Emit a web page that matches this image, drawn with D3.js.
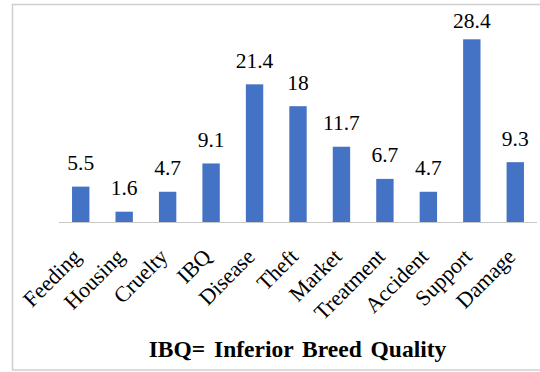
<!DOCTYPE html>
<html>
<head>
<meta charset="utf-8">
<script src="https://cdn.jsdelivr.net/npm/d3@7"></script>
<style>
  html, body { margin: 0; padding: 0; background: #fff; }
  svg { display: block; }
  svg text { font-family: "Liberation Serif", "DejaVu Serif", serif; }
</style>
</head>
<body>
<svg id="chart" width="540" height="372"></svg>
<script>
// Reported problems, percentage of respondents
const categories = ["Feeding", "Housing", "Cruelty", "IBQ", "Disease", "Theft", "Market", "Treatment", "Accident", "Support", "Damage"];
const values = [5.5, 1.6, 4.7, 9.1, 21.4, 18, 11.7, 6.7, 4.7, 28.4, 9.3];
const footnote = "IBQ= Inferior Breed Quality";

const svg = d3.select("#chart");
const plot = { left: 59, right: 537, top: 29, bottom: 222 };
const serif = '"Liberation Serif", "DejaVu Serif", serif';

// chart frame
svg.append("rect")
  .attr("x", 12.5).attr("y", 4.5)
  .attr("width", 540).attr("height", 365.5)
  .attr("fill", "#fff")
  .attr("stroke", "#d0d0d0")
  .attr("stroke-width", 1.5);

const x = d3.scaleBand()
  .domain(categories)
  .range([plot.left, plot.right])
  .paddingInner(0.6)
  .paddingOuter(0.3);

const y = d3.scaleLinear()
  .domain([0, 30])
  .range([plot.bottom, plot.top]);

const data = categories.map((c, i) => ({ c, v: values[i] }));

// bars
svg.append("g").selectAll("rect")
  .data(data)
  .join("rect")
  .attr("x", d => x(d.c))
  .attr("y", d => y(d.v))
  .attr("width", x.bandwidth())
  .attr("height", d => y(0) - y(d.v))
  .attr("fill", "#4472C4");

// category axis
const xAxis = svg.append("g")
  .attr("transform", `translate(0,${plot.bottom})`)
  .call(d3.axisBottom(x).tickSize(0).tickPadding(0));
xAxis.attr("font-family", null).attr("font-size", null);
xAxis.select(".domain").attr("stroke", "#c8c8c8").attr("stroke-width", 1.2)
  .attr("d", `M${plot.left},0.5H${plot.right}`);
xAxis.selectAll(".tick text")
  .style("font-family", serif)
  .style("font-size", "22px")
  .attr("fill", "#000")
  .attr("text-anchor", "end")
  .attr("dy", 0)
  .attr("y", 0)
  .attr("transform", "translate(1.5,36) rotate(-45)");

// value labels
svg.append("g").selectAll("text")
  .data(data)
  .join("text")
  .attr("x", d => x(d.c) + x.bandwidth() / 2)
  .attr("y", d => Math.max(y(d.v) - 16.5, 28.3))
  .attr("text-anchor", "middle")
  .style("font-family", serif)
  .style("font-size", "21.5px")
  .attr("fill", "#000")
  .text(d => d.v);

// footnote
svg.append("text")
  .attr("x", 297.5)
  .attr("y", 357.3)
  .attr("text-anchor", "middle")
  .style("font-family", serif)
  .style("font-weight", "bold")
  .style("font-size", "23.5px")
  .attr("word-spacing", 3)
  .attr("fill", "#000")
  .text(footnote);
</script>
</body>
</html>
